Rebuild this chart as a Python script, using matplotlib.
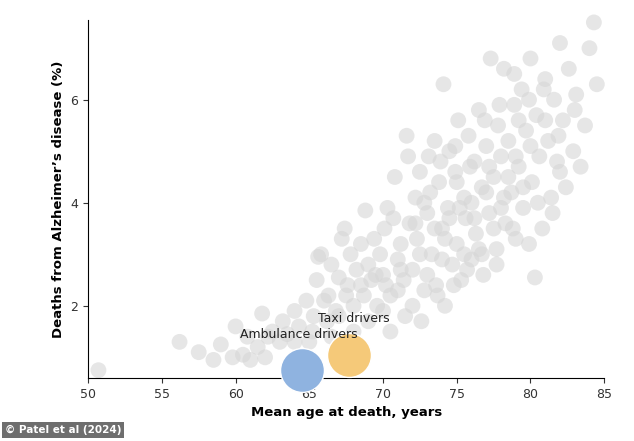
import matplotlib
matplotlib.use('Agg')
import matplotlib.pyplot as plt

# (mean age at death, % deaths from Alzheimer's)
ocupaciones = [
    (50.7,0.75),(56.2,1.3),(57.5,1.1),(58.5,0.95),(59,1.25),(60,1.6),(60.5,1.05),(61,0.95),
    (61.5,1.2),(61.8,1.85),(62,1.0),(62.5,1.5),(63,1.3),(63.2,1.7),(63.5,1.45),(64,1.9),
    (64.3,1.6),(64.8,2.1),(65,1.3),(65.3,1.8),(65.5,2.5),(65.6,2.95),(65.8,3.0),(66,2.1),
    (66.3,2.2),(66.5,2.8),(66.8,1.9),(67,2.55),(67.2,3.3),(67.4,3.5),(67.6,2.4),(67.8,3.0),
    (68,2.0),(68.2,2.7),(68.5,3.2),(68.7,2.2),(68.8,3.85),(69,2.8),(69.2,2.5),(69.4,3.3),
    (69.6,2.0),(69.8,3.0),(70,2.6),(70.1,3.5),(70.3,3.9),(70.5,2.2),(70.7,3.7),(70.8,4.5),
    (71,2.9),(71.2,3.2),(71.4,2.5),(71.6,5.3),(71.7,4.9),(71.8,3.6),(72,2.7),(72.2,4.1),
    (72.3,3.3),(72.5,4.6),(72.6,1.7),(72.8,2.3),(73,3.8),(73.1,4.9),(73.3,3.0),(73.5,5.2),
    (73.6,2.4),(73.8,4.4),(74,3.5),(74.1,6.3),(74.2,2.0),(74.4,3.9),(74.5,5.0),(74.7,2.8),
    (74.9,4.6),(75,3.2),(75.1,5.6),(75.3,2.5),(75.5,4.1),(75.6,3.7),(75.8,5.3),(76,2.9),
    (76.2,4.8),(76.3,3.4),(76.5,5.8),(76.7,4.3),(76.8,2.6),(77,5.1),(77.2,3.8),(77.3,6.8),
    (77.5,4.5),(77.7,3.1),(77.8,5.5),(78,4.9),(78.2,6.6),(78.3,3.6),(78.5,5.2),(78.7,4.2),
    (78.9,5.9),(79,3.3),(79.2,4.7),(79.4,6.2),(79.5,3.9),(79.7,5.4),(79.9,3.2),(80,6.8),
    (80.1,4.4),(80.3,2.55),(80.4,5.7),(80.6,4.9),(80.8,3.5),(81,6.4),(81.2,5.2),(81.4,4.1),
    (81.6,6.0),(81.8,4.8),(82,7.1),(82.2,5.6),(82.4,4.3),(82.6,6.6),(82.9,5.0),(83.1,6.1),
    (83.4,4.7),(83.7,5.5),(84,7.0),(84.3,7.5),(84.5,6.3),
    (66.5,1.4),(67,1.8),(68,1.5),(69,1.7),(70,1.9),(70.5,1.5),(71,2.3),(71.5,1.8),(72,2.0),
    (72.5,3.0),(73,2.6),(73.5,3.5),(74,2.9),(74.5,3.7),(75,4.4),(75.5,3.0),(76,4.0),(76.5,3.1),
    (77,4.2),(77.5,3.5),(78,3.9),(78.5,4.5),(79,4.9),(79.5,4.3),(80,5.1),(80.5,4.0),(81,5.6),
    (81.5,3.8),(82,4.6),(83,5.8),(72.2,3.6),(73.2,4.2),(74.2,3.3),(75.2,3.9),(76.2,3.7),
    (77.2,4.7),(78.2,4.1),(79.2,5.6),(71.2,2.7),(70.2,2.4),(69.5,2.6),(68.5,2.4),(67.5,2.2),
    (66.2,1.7),(65.2,1.5),(64,1.3),(62.2,1.4),(60.8,1.4),(59.8,1.0),(73.7,2.2),(74.8,2.4),
    (75.7,2.7),(76.7,3.0),(77.7,2.8),(78.8,3.5),(72.8,4.0),(73.9,4.8),(74.9,5.1),(75.9,4.7),
    (76.9,5.6),(77.9,5.9),(78.9,6.5),(79.9,6.0),(80.9,6.2),(81.9,5.3),
]
destacados = {
    'Ambulance drivers': (64.5, 0.75, '#8fb3e0', (64.3, 1.45)),
    'Taxi drivers': (67.7, 1.05, '#f5c979', (68.0, 1.75)),
}

fig = plt.figure(figsize=(6.34, 4.41), dpi=100)
ax = fig.add_axes([0.139, 0.143, 0.814, 0.812])

xs = [p[0] for p in ocupaciones]
ys = [p[1] for p in ocupaciones]
ax.scatter(xs, ys, s=130, color='#d6d6d6', alpha=0.6, edgecolors='none', clip_on=False)

for nombre, (x, y, color, (tx, ty)) in destacados.items():
    ax.scatter([x], [y], s=1000, color=color, edgecolors='white', linewidths=1, zorder=3,
               clip_on=False)
    ax.text(tx, ty, nombre, ha='center', va='center', fontsize=9, color='#222222', zorder=4)

ax.set_xlim(50, 85)
ax.set_ylim(0.6, 7.55)
ax.set_xticks(range(50, 86, 5))
ax.set_yticks([2, 4, 6])
ax.spines['top'].set_visible(False)
ax.spines['right'].set_visible(False)
ax.tick_params(labelsize=9, colors='#333333')
ax.set_xlabel('Mean age at death, years', fontsize=9.5, fontweight='bold')
ax.set_ylabel('Deaths from Alzheimer\u2019s disease (%)', fontsize=9.5, fontweight='bold')

fig.text(0.008, 0.018, '\u00a9 Patel et al (2024)', fontsize=7.5, color='white',
         fontweight='bold', bbox=dict(facecolor='#6e6e6e', edgecolor='none', pad=2))

fig.savefig('out.png', dpi=100)
